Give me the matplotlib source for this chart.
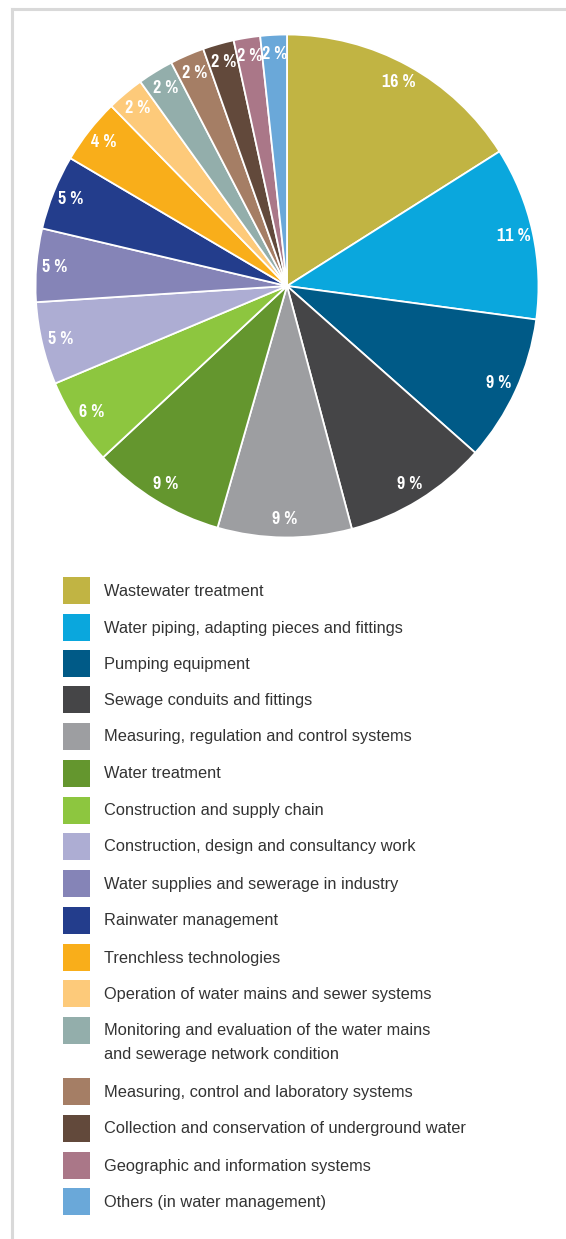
import os
import matplotlib
matplotlib.use("Agg")
import numpy as np
import matplotlib.pyplot as plt
import matplotlib.font_manager as fm
from matplotlib.patches import Rectangle
from matplotlib.lines import Line2D

# Categories, shares and printed labels
categories = [
    "Wastewater treatment",
    "Water piping, adapting pieces and fittings",
    "Pumping equipment",
    "Sewage conduits and fittings",
    "Measuring, regulation and control systems",
    "Water treatment",
    "Construction and supply chain",
    "Construction, design and consultancy work",
    "Water supplies and sewerage in industry",
    "Rainwater management",
    "Trenchless technologies",
    "Operation of water mains and sewer systems",
    "Monitoring and evaluation of the water mains\nand sewerage network condition",
    "Measuring, control and laboratory systems",
    "Collection and conservation of underground water",
    "Geographic and information systems",
    "Others (in water management)",
]
shares = [16.0, 11.1, 9.4, 9.3, 8.6, 8.6, 5.6, 5.3, 4.7, 4.8, 4.2, 2.4, 2.3, 2.2, 2.0, 1.7, 1.7]
pct_labels = ["16 %", "11 %", "9 %", "9 %", "9 %", "9 %", "6 %", "5 %", "5 %", "5 %",
              "4 %", "2 %", "2 %", "2 %", "2 %", "2 %", "2 %"]
colors = ["#c1b443", "#0aa7dd", "#005a87", "#454547", "#9d9ea1", "#64962e", "#8dc63f",
          "#adadd3", "#8584b7", "#233d8c", "#f9ae1a", "#fdca7a", "#93aeab", "#a57e65",
          "#62493b", "#aa7788", "#6aa8d9"]


def find_font(keys):
    # look for a condensed / narrow bold face among the installed fonts
    for k in keys:
        for f in fm.fontManager.ttflist:
            base = os.path.basename(f.fname).lower()
            if k in base and "italic" not in base and "oblique" not in base:
                return f.fname
    return None


cond = find_font(["sansnarrow-bold", "narrow-bold", "condensed-bold", "condensedbold",
                  "condensed_bold", "condensed-semibold"])
if cond:
    pct_font = fm.FontProperties(fname=cond, size=14)
else:
    pct_font = fm.FontProperties(family=["Liberation Sans", "DejaVu Sans"], weight="bold",
                                 size=11)
leg_font = fm.FontProperties(family=["Liberation Sans", "DejaVu Sans"], size=11.8)

W, H = 566, 1239
fig = plt.figure(figsize=(W / 100, H / 100), dpi=100)
fig.patch.set_facecolor("white")

# light grey frame (top and left edges visible)
fig.add_artist(Line2D([12 / W, 1], [1 - 9 / H, 1 - 9 / H], color="#d9d9d9", lw=2.2,
                      transform=fig.transFigure))
fig.add_artist(Line2D([12 / W, 12 / W], [0, 1 - 9 / H], color="#d9d9d9", lw=2.2,
                      transform=fig.transFigure))

# pie
cx, cy, r = 287, 286, 254
ax = fig.add_axes([(cx - r) / W, (H - cy - r) / H, 2 * r / W, 2 * r / H])
wedges, texts = ax.pie(shares, colors=colors, startangle=90, counterclock=False,
                       labels=pct_labels, labeldistance=0.925,
                       wedgeprops=dict(edgecolor="white", linewidth=1.3),
                       textprops=dict(color="white"))
for t in texts:
    t.set_fontproperties(pct_font)
    t.set_ha("center")
    t.set_va("center")
ax.set_xlim(-1.01, 1.01)
ax.set_ylim(-1.01, 1.01)
ax.axis("off")

# legend drawn by hand
lax = fig.add_axes([0, 0, 1, 1])
lax.set_xlim(0, W)
lax.set_ylim(H, 0)
lax.axis("off")
row_y = [590, 627, 663, 699, 736, 773, 810, 846, 883, 920, 957, 993, 1030,
         1091, 1128, 1165, 1201]
for yy, lab, col in zip(row_y, categories, colors):
    lax.add_patch(Rectangle((63, yy - 13.5), 27, 27, facecolor=col, edgecolor="none"))
    lax.text(104, yy - 6.5, lab, ha="left", va="top", color="#333333",
             fontproperties=leg_font, linespacing=1.68)

fig.savefig("out.png", dpi=100)
